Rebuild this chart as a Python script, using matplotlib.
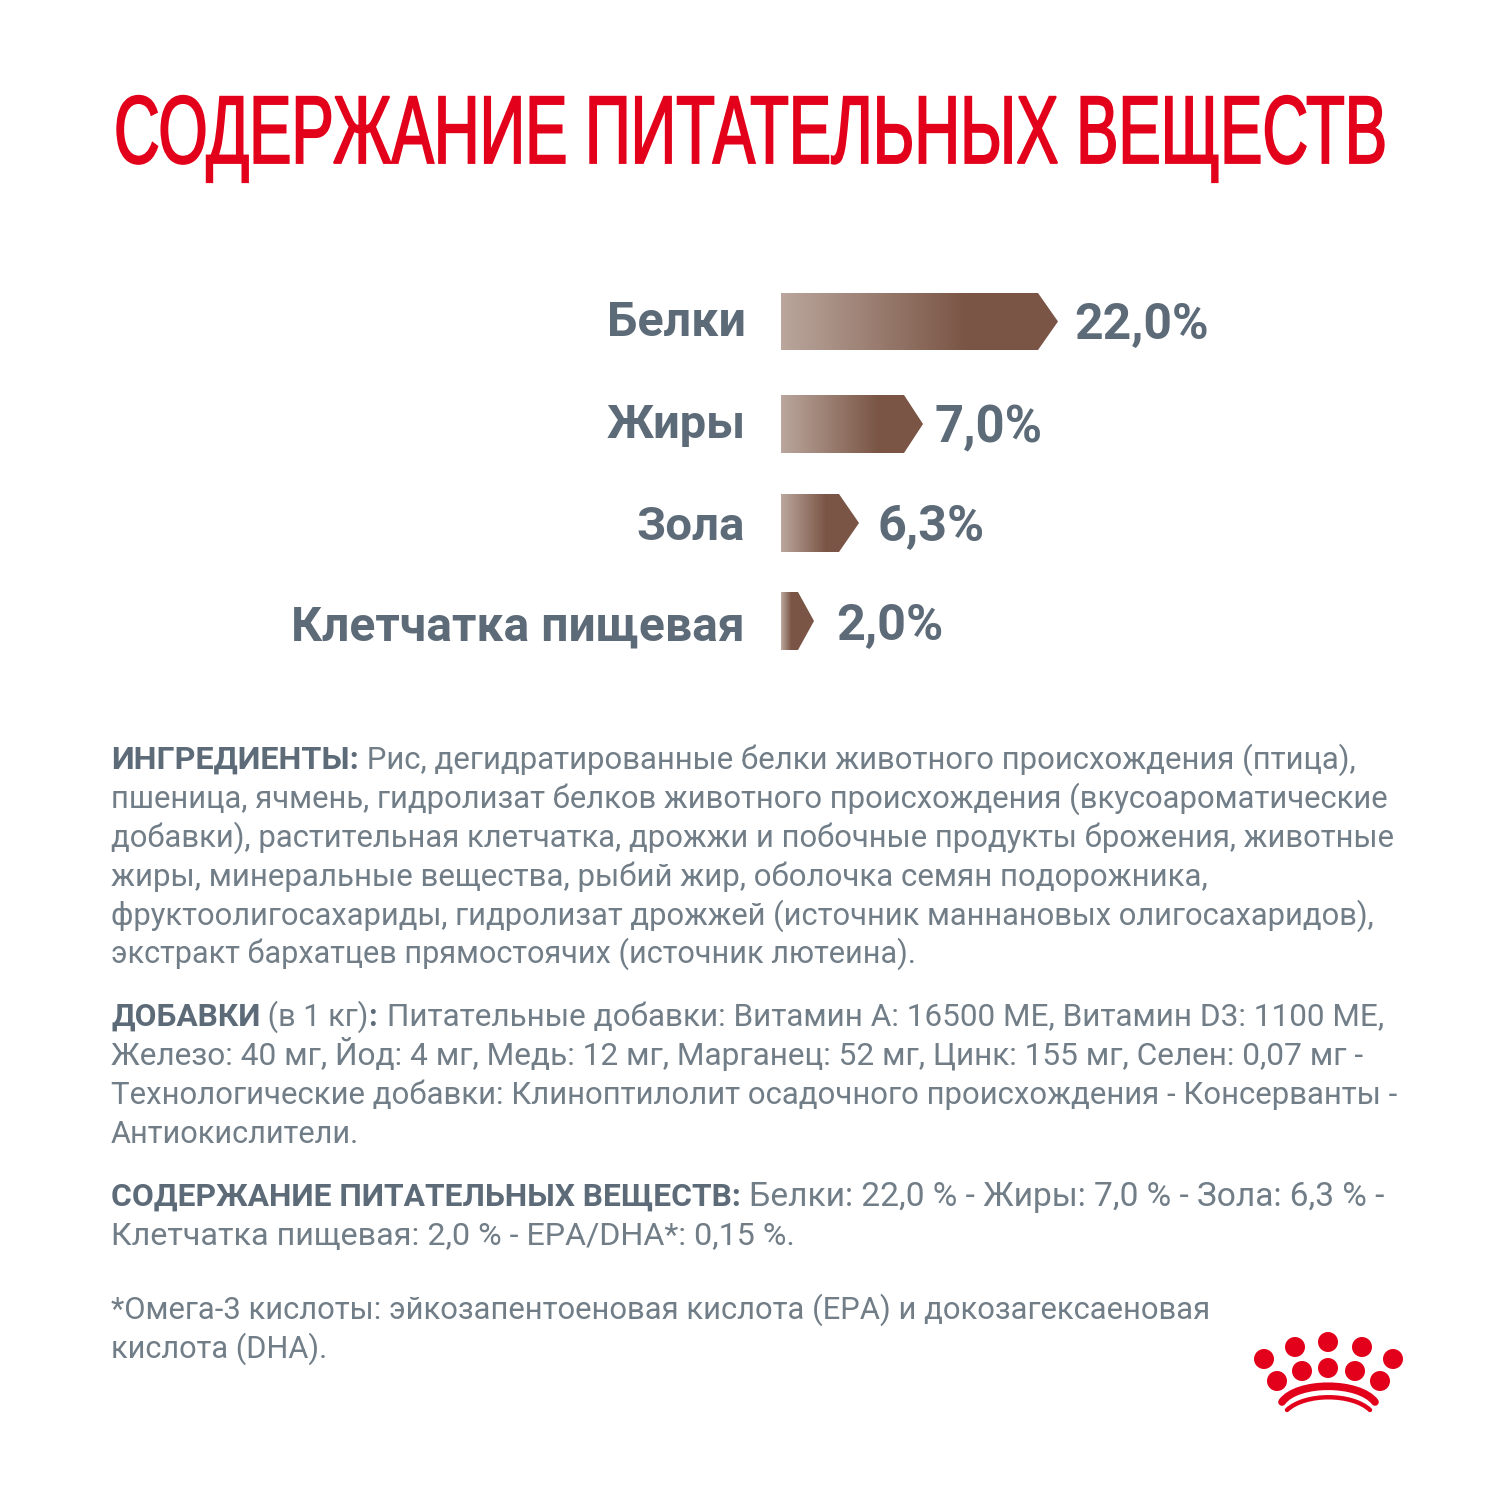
import numpy as np
import matplotlib
matplotlib.use("Agg")
import matplotlib.pyplot as plt
from matplotlib.colors import LinearSegmentedColormap
from matplotlib.patches import Polygon, Circle, PathPatch
from matplotlib.path import Path
from matplotlib.patheffects import AbstractPathEffect
from matplotlib.transforms import Affine2D

TITLE_FONT = "Liberation Sans"
FONT = "Roboto"

RED = "#e2001a"
GREY = "#5d6b78"
BODY = "#717d87"

title = "СОДЕРЖАНИЕ ПИТАТЕЛЬНЫХ ВЕЩЕСТВ"

categories = ["Белки", "Жиры", "Зола", "Клетчатка пищевая"]
value_labels = ["22,0%", "7,0%", "6,3%", "2,0%"]
# bar sizes in pixels (they are not to scale with the values)
bar_lengths = [257, 123, 58, 17]
tip_lengths = [20, 19, 20, 16]
grad_ends = [185, 97, 45, 10]
bar_tops = [293, 395, 494, 592]
bar_bottoms = [350, 453, 552, 650]
label_left = [607, 607, 637, 293]
label_right = [746, 746, 745, 745]
label_base = [336, 438, 540, 640]
value_left = [1074, 935, 877, 836]
value_right = [1208, 1043, 984, 943]
value_base = [339, 442, 541, 640]

# (text, bold, right edge of the run in pixels) per line, with the baseline
body_lines = [
    ([("ИНГРЕДИЕНТЫ:", True, 359), (" Рис, дегидратированные белки животного происхождения (птица),", False, 1358)], 769),
    ([("пшеница, ячмень, гидролизат белков животного происхождения (вкусоароматические", False, 1389)], 808),
    ([("добавки), растительная клетчатка, дрожжи и побочные продукты брожения, животные", False, 1391)], 847),
    ([("жиры, минеральные вещества, рыбий жир, оболочка семян подорожника,", False, 1207)], 886),
    ([("фруктоолигосахариды, гидролизат дрожжей (источник маннановых олигосахаридов),", False, 1373)], 925),
    ([("экстракт бархатцев прямостоячих (источник лютеина).", False, 916)], 963),
    ([("ДОБАВКИ", True, 260), (" (в 1 кг)", False, 368), (":", True, 379), (" Питательные добавки: Витамин A: 16500 МЕ, Витамин D3: 1100 МЕ,", False, 1384)], 1026),
    ([("Железо: 40 мг, Йод: 4 мг, Медь: 12 мг, Марганец: 52 мг, Цинк: 155 мг, Селен: 0,07 мг -", False, 1364)], 1065),
    ([("Технологические добавки: Клиноптилолит осадочного происхождения - Консерванты -", False, 1398)], 1104),
    ([("Антиокислители.", False, 360)], 1143),
    ([("СОДЕРЖАНИЕ ПИТАТЕЛЬНЫХ ВЕЩЕСТВ:", True, 741), (" Белки: 22,0 % - Жиры: 7,0 % - Зола: 6,3 % -", False, 1384)], 1206),
    ([("Клетчатка пищевая: 2,0 % - EPA/DHA*: 0,15 %.", False, 794)], 1245),
    ([("*Омега-3 кислоты: эйкозапентоеновая кислота (EPA) и докозагексаеновая", False, 1212)], 1319),
    ([("кислота (DHA).", False, 327)], 1358),
]

crown_x = [1264, 1295, 1328, 1362, 1393, 1277, 1302, 1328, 1355, 1380]
crown_y = [1359, 1347, 1342, 1347, 1359, 1381, 1371, 1368, 1371, 1381]


class StretchY(AbstractPathEffect):
    # the reference title is a condensed face, none is installed, so stretch the glyphs upward
    # and thicken them with a stroke of the same colour
    def __init__(self, base, factor, lw):
        super().__init__()
        self.base = base
        self.factor = factor
        self.lw = lw

    def draw_path(self, renderer, gc, tpath, affine, rgbFace=None):
        stretch = Affine2D().translate(0, -self.base).scale(1, self.factor).translate(0, self.base)
        gc0 = renderer.new_gc()
        gc0.copy_properties(gc)
        gc0.set_foreground(RED)
        gc0.set_linewidth(self.lw)
        gc0.set_joinstyle("miter")
        renderer.draw_path(gc0, tpath, affine + stretch, rgbFace)
        gc0.restore()


fig = plt.figure(figsize=(15, 15), dpi=100)
ax = fig.add_axes([0, 0, 1, 1])
ax.axis("off")
rend = fig.canvas.get_renderer()


def width(s, size, bold, family=FONT):
    t = ax.text(0, 0, s, fontsize=size, family=family, fontweight="bold" if bold else "normal")
    w = t.get_window_extent(rend).width
    t.remove()
    return w


def fit(s, target, bold, family=FONT):
    return 20 * target / width(s, 20, bold, family)


# title
title_size = fit(title, 1272, False, TITLE_FONT)
cap_px = 0.716 * title_size / 0.72
ax.text(114, 163, title, fontsize=title_size, family=TITLE_FONT,
        color=RED, va="baseline", ha="left",
        path_effects=[StretchY(1500 - 163, 69 / cap_px, 1.3)])

# gradient arrows
cmap = LinearSegmentedColormap.from_list("bar", ["#baa69c", "#7a5545"])
for i in range(len(categories)):
    x0 = 781
    x1 = x0 + bar_lengths[i]
    xt = x1 + tip_lengths[i]
    top, bot = bar_tops[i], bar_bottoms[i]
    n = xt - x0
    g = np.clip(np.arange(n) / grad_ends[i], 0, 1).reshape(1, -1)
    im = ax.imshow(g, cmap=cmap, vmin=0, vmax=1, extent=[x0, xt, bot, top], aspect="auto", zorder=2)
    poly = Polygon([(x0, top), (x1, top), (xt, (top + bot) / 2), (x1, bot), (x0, bot)],
                   closed=True, transform=ax.transData, fc="none", ec="none")
    ax.add_patch(poly)
    im.set_clip_path(poly)

    size = fit(categories[i], label_right[i] - label_left[i], True)
    ax.text(label_right[i], label_base[i], categories[i], fontsize=size, family=FONT, fontweight="bold",
            color=GREY, ha="right", va="baseline")
    size = fit(value_labels[i], value_right[i] - value_left[i], True)
    ax.text(value_left[i], value_base[i], value_labels[i], fontsize=size, family=FONT, fontweight="bold",
            color=GREY, ha="left", va="baseline")

# ingredient text, run by run
for runs, base in body_lines:
    x = 111
    for s, b, right in runs:
        size = fit(s, right - x, b) if len(s) > 1 else 22
        ax.text(x, base, s, fontsize=size, family=FONT, fontweight="bold" if b else "normal",
                color=GREY if b else BODY, ha="left", va="baseline")
        x = right

# crown logo
for x, y in zip(crown_x, crown_y):
    ax.add_patch(Circle((x, y), 10, fc=RED, ec="none"))
curve = [Path.MOVETO, Path.CURVE4, Path.CURVE4, Path.CURVE4]
ax.add_patch(PathPatch(Path([(1282, 1402), (1297, 1381), (1359, 1381), (1375, 1402)], curve), fc="none", ec=RED,
                       lw=5.5, capstyle="round"))
ax.add_patch(PathPatch(Path([(1287, 1410), (1305, 1393), (1352, 1393), (1370, 1410)], curve), fc="none", ec=RED,
                       lw=3.2, capstyle="round"))

ax.set_xlim(0, 1500)
ax.set_ylim(1500, 0)
fig.savefig("out.png", dpi=100, facecolor="white")
